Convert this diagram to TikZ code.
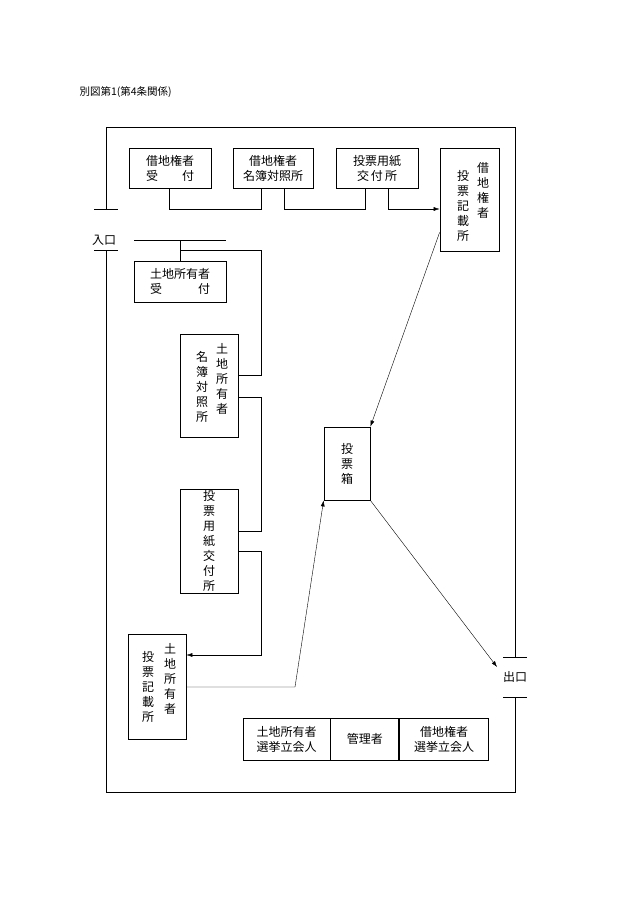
\documentclass[tikz,border=0pt]{standalone}
\usepackage{fontspec}
\setmainfont{Noto Sans CJK JP}
\usetikzlibrary{positioning,arrows.meta}
\tikzset{
  booth/.style={draw,thick,inner sep=0pt,font=\fontsize{12}{15}\selectfont,align=center},
  tate/.style={booth,font=\fontsize{12}{15}\selectfont},
  flow/.style={thin},
  flowarr/.style={thin,-{Latex[length=6pt,width=4pt]}},
  wall/.style={thick}
}
\begin{document}
\begin{tikzpicture}[x=1pt,y=-1pt]
  \useasboundingbox (0,0) rectangle (630,915);
  \node[anchor=west,font=\fontsize{10.5}{12}\selectfont] (title) at (76,92) {別図第1(第4条関係)};

  % walls
  \draw[wall] (106,209) -- (106,127) -- (515,127) -- (515,657);
  \draw[wall] (515,697) -- (515,792) -- (106,792) -- (106,250);
  \draw[wall] (94,209) -- (118,209);
  \draw[wall] (94,250) -- (118,250);
  \draw[wall] (503,657) -- (527,657);
  \draw[wall] (503,697) -- (527,697);
  \node[font=\fontsize{12}{13}\selectfont] (entry) at (104,240) {入口};
  \node[font=\fontsize{12}{13}\selectfont] (exit) at (515,677) {出口};

  % booths for leaseholders
  \node[booth,minimum width=82pt,minimum height=40pt] (lrecv) at (170,168) {借地権者\\受\hspace{2em}付};
  \node[booth,minimum width=80pt,minimum height=40pt] (lcheck) at (273,168) {借地権者\\名簿対照所};
  \node[booth,minimum width=82pt,minimum height=40pt] (lpaper) at (377,168) {投票用紙\\交\,付\,所};
  \node[booth,minimum width=59pt,minimum height=103pt] (lwrite) at (469.5,199.5) {};
  \node[font=\fontsize{12}{15}\selectfont,align=center,anchor=north] (lwriteA) at (483,159) {借\\地\\権\\者};
  \node[font=\fontsize{12}{15}\selectfont,align=center,anchor=north] (lwriteB) at (463,167) {投\\票\\記\\載\\所};

  % booths for landowners
  \node[booth,minimum width=92pt,minimum height=41pt] (orecv) at (180,281.5) {土地所有者\\受\hspace{3em}付};
  \node[booth,minimum width=58pt,minimum height=103pt] (ocheck) at (209,385.5) {};
  \node[font=\fontsize{12}{15}\selectfont,align=center,anchor=north] (ocheckA) at (222,340) {土\\地\\所\\有\\者};
  \node[font=\fontsize{12}{15}\selectfont,align=center,anchor=north] (ocheckB) at (202,348) {名\\簿\\対\\照\\所};
  \node[tate,minimum width=58pt,minimum height=104pt] (opaper) at (209,541) {投\\票\\用\\紙\\交\\付\\所};
  \node[booth,minimum width=58pt,minimum height=105pt] (owrite) at (157,686.5) {};
  \node[font=\fontsize{12}{15}\selectfont,align=center,anchor=north] (owriteA) at (170,640) {土\\地\\所\\有\\者};
  \node[font=\fontsize{12}{15}\selectfont,align=center,anchor=north] (owriteB) at (148,648) {投\\票\\記\\載\\所};

  \node[tate,minimum width=46pt,minimum height=73pt] (box) at (347,463.5) {投\\票\\箱};

  % observers
  \node[booth,minimum width=87pt,minimum height=42pt] (wit1) at (286.5,739) {土地所有者\\選挙立会人};
  \node[booth,minimum width=68pt,minimum height=42pt,right=0pt of wit1] (mgr) {管理者};
  \node[booth,minimum width=89pt,minimum height=42pt,right=0pt of mgr] (wit2) {借地権者\\選挙立会人};

  % leaseholder route
  \draw[flow] ([xshift=-1pt]lrecv.south) |- (261,209) -- (lcheck.south -| 261,0);
  \draw[flow] ([xshift=11pt]lcheck.south) |- (365,209) -- (lpaper.south -| 365,0);
  \draw[flowarr] ([xshift=11pt]lpaper.south) |- (lwrite.west |- 0,209);
  \draw[flowarr] ([yshift=19pt]lwrite.south west) -- (box.north east);

  % landowner route
  \coordinate (ocorr) at (134,240);
  \draw[wall] (ocorr) -- (226,240);
  \draw[flow] (180,240) -- (orecv.north);
  \draw[flow] (180,250) -- (261,250) |- (ocheck.east |- 0,375);
  \draw[flow] (ocheck.east |- 0,397) -- (261,397) |- (opaper.east |- 0,531);
  \draw[flowarr] (opaper.east |- 0,551) -- (261,551) |- (owrite.east |- 0,655);
  \draw[flowarr] (owrite.east |- 0,687) -- (295,687) -- (box.south west);
  \draw[flowarr] (box.south east) -- (497,667);
\end{tikzpicture}
\end{document}
